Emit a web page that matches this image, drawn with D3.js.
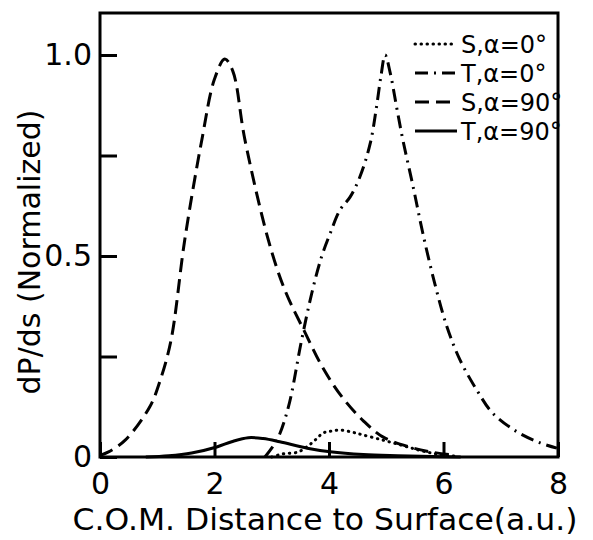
<!DOCTYPE html>
<html>
<head>
<meta charset="utf-8">
<script src="https://cdn.jsdelivr.net/npm/d3@7"></script>
<style>
    body { margin: 0; background: #fff; }
</style>
</head>
<body>
<div id="chart-container"></div>
<script>
// Data
const s0X = [3.0, 3.2, 3.45, 3.62, 3.78, 3.9, 4.02, 4.19, 4.4, 4.59, 4.94, 5.3, 5.6, 5.9, 6.2];
const s0Y = [0.0, 0.008, 0.012, 0.026, 0.045, 0.06, 0.064, 0.067, 0.062, 0.055, 0.042, 0.028, 0.016, 0.007, 0.002];

const t0X = [2.88, 3.09, 3.29, 3.52, 3.70, 3.87, 4.02, 4.19, 4.37, 4.54, 4.72, 4.83, 4.91, 4.98, 5.07, 5.18, 5.29, 5.47, 5.64, 5.85, 6.06, 6.29, 6.58, 6.86, 7.28, 7.69, 7.98];
const t0Y = [0.0, 0.042, 0.124, 0.29, 0.408, 0.498, 0.556, 0.614, 0.647, 0.697, 0.78, 0.871, 0.95, 1.0, 0.955, 0.871, 0.789, 0.672, 0.556, 0.43, 0.324, 0.241, 0.167, 0.109, 0.063, 0.035, 0.022];

const s90X = [0, 0.14, 0.44, 0.87, 1.05, 1.24, 1.48, 1.78, 2.0, 2.18, 2.32, 2.53, 2.94, 3.23, 3.58, 3.9, 4.24, 4.6, 4.94, 5.4, 5.8, 6.1];
const s90Y = [0.004, 0.012, 0.042, 0.125, 0.19, 0.29, 0.54, 0.79, 0.94, 0.99, 0.96, 0.79, 0.54, 0.415, 0.31, 0.22, 0.147, 0.09, 0.05, 0.025, 0.012, 0.006];

const t90X = [0.8, 1.2, 1.6, 2.04, 2.3, 2.59, 2.85, 3.14, 3.62, 4.02, 4.6, 5.2, 5.8, 6.3];
const t90Y = [0.0, 0.003, 0.01, 0.025, 0.038, 0.048, 0.046, 0.038, 0.022, 0.013, 0.006, 0.003, 0.001, 0.0];

const seriesLabels = ["S,\u03b1=0\u00b0", "T,\u03b1=0\u00b0", "S,\u03b1=90\u00b0", "T,\u03b1=90\u00b0"];
const xTicks = [0, 2, 4, 6, 8];
const yTicks = [0, 0.25, 0.5, 0.75, 1];
const yTickLabels = { 0: "0", 0.5: "0.5", 1: "1.0" };

const width = 593;
const height = 540;
const font = "'DejaVu Sans', sans-serif";

const svg = d3.select("#chart-container")
    .append("svg")
    .attr("width", width)
    .attr("height", height)
    .style("font-family", font);

const x = d3.scaleLinear().domain([0, 8]).range([100, 558]);
const y = d3.scaleLinear().domain([0, 1]).range([457, 55]);

// Axes with inward ticks
const xAxis = svg.append("g")
    .attr("transform", `translate(0,${y(0)})`)
    .call(d3.axisBottom(x).tickValues(xTicks).tickSize(-15).tickPadding(16).tickFormat(d3.format("d")));

const yAxis = svg.append("g")
    .attr("transform", `translate(${x(0)},0)`)
    .call(d3.axisLeft(y).tickValues(yTicks).tickSize(-17).tickPadding(8)
        .tickFormat(d => yTickLabels[d] || ""));

[xAxis, yAxis].forEach(g => {
    g.select(".domain").remove();
    g.selectAll(".tick line").attr("stroke", "#000").attr("stroke-width", 3);
    g.selectAll(".tick text").attr("fill", "#000").style("font-size", "30px").style("font-family", font);
});

// Frame
svg.append("rect")
    .attr("x", x(0))
    .attr("y", 13)
    .attr("width", x(8) - x(0))
    .attr("height", y(0) - 13)
    .attr("fill", "none")
    .attr("stroke", "#000")
    .attr("stroke-width", 3);

// Curves
const series = [
    { xs: s0X, ys: s0Y, dash: "0.5,5.5", cap: "round" },
    { xs: t0X, ys: t0Y, dash: "13,6,2,6", cap: "butt" },
    { xs: s90X, ys: s90Y, dash: "14,7", cap: "butt" },
    { xs: t90X, ys: t90Y, dash: null, cap: "butt" }
];

const line = d3.line()
    .x(d => x(d[0]))
    .y(d => y(d[1]))
    .curve(d3.curveCatmullRom.alpha(0.5));

series.forEach(s => {
    svg.append("path")
        .datum(s.xs.map((v, i) => [v, s.ys[i]]))
        .attr("d", line)
        .attr("fill", "none")
        .attr("stroke", "#000")
        .attr("stroke-width", 3)
        .attr("stroke-linecap", s.cap)
        .attr("stroke-dasharray", s.dash);
});

// Legend
const legend = svg.append("g");
series.forEach((s, i) => {
    const ly = 44 + i * 29;
    legend.append("line")
        .attr("x1", 415).attr("x2", 457)
        .attr("y1", ly).attr("y2", ly)
        .attr("stroke", "#000")
        .attr("stroke-width", 3)
        .attr("stroke-linecap", s.cap)
        .attr("stroke-dasharray", s.dash);
    legend.append("text")
        .attr("x", 461)
        .attr("y", ly)
        .attr("dy", "0.36em")
        .text(seriesLabels[i])
        .style("font-size", "24px");
});

// Axis titles
svg.append("text")
    .attr("x", 325)
    .attr("y", 530)
    .attr("text-anchor", "middle")
    .attr("textLength", 505)
    .attr("lengthAdjust", "spacingAndGlyphs")
    .text("C.O.M. Distance to Surface(a.u.)")
    .style("font-size", "30px");

svg.append("text")
    .attr("transform", "translate(40,252) rotate(-90)")
    .attr("text-anchor", "middle")
    .text("dP/ds  (Normalized)")
    .style("font-size", "30px");
</script>
</body>
</html>
